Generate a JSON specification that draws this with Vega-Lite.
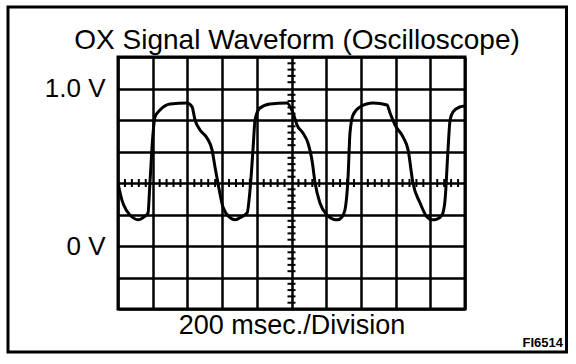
{
  "$schema": "https://vega.github.io/schema/vega-lite/v6.json",
  "autosize": "none",
  "width": 347,
  "height": 252,
  "padding": {"left": 118, "top": 57, "right": 111, "bottom": 55},
  "background": "white",
  "config": {
    "view": {"stroke": "black", "strokeWidth": 3},
    "font": "Liberation Sans"
  },
  "datasets": {
    "wave": [
      {"t": 0, "v": 0.40}, {"t": 23, "v": 0.29}, {"t": 52, "v": 0.22}, {"t": 86, "v": 0.18},
      {"t": 115, "v": 0.166}, {"t": 144, "v": 0.18}, {"t": 173, "v": 0.21}, {"t": 184, "v": 0.40}, {"t": 202, "v": 0.717},
      {"t": 213, "v": 0.819}, {"t": 242, "v": 0.863}, {"t": 300, "v": 0.902}, {"t": 398, "v": 0.908},
      {"t": 427, "v": 0.883}, {"t": 444, "v": 0.80}, {"t": 473, "v": 0.737}, {"t": 513, "v": 0.686},
      {"t": 542, "v": 0.61}, {"t": 559, "v": 0.502}, {"t": 576, "v": 0.40}, {"t": 605, "v": 0.248},
      {"t": 646, "v": 0.18}, {"t": 675, "v": 0.166}, {"t": 703, "v": 0.18}, {"t": 744, "v": 0.21}, {"t": 761, "v": 0.356},
      {"t": 778, "v": 0.61}, {"t": 790, "v": 0.80}, {"t": 818, "v": 0.876}, {"t": 876, "v": 0.902},
      {"t": 974, "v": 0.908}, {"t": 1009, "v": 0.844}, {"t": 1032, "v": 0.768}, {"t": 1066, "v": 0.717},
      {"t": 1095, "v": 0.654}, {"t": 1118, "v": 0.546}, {"t": 1136, "v": 0.40}, {"t": 1164, "v": 0.273},
      {"t": 1205, "v": 0.197}, {"t": 1239, "v": 0.171}, {"t": 1265, "v": 0.166}, {"t": 1291, "v": 0.184}, {"t": 1308, "v": 0.229},
      {"t": 1326, "v": 0.438}, {"t": 1337, "v": 0.717}, {"t": 1355, "v": 0.832}, {"t": 1395, "v": 0.883},
      {"t": 1470, "v": 0.908}, {"t": 1551, "v": 0.895}, {"t": 1568, "v": 0.844}, {"t": 1597, "v": 0.768},
      {"t": 1643, "v": 0.692}, {"t": 1672, "v": 0.61}, {"t": 1700, "v": 0.40}, {"t": 1741, "v": 0.273},
      {"t": 1781, "v": 0.184}, {"t": 1810, "v": 0.166}, {"t": 1839, "v": 0.171}, {"t": 1868, "v": 0.197}, {"t": 1885, "v": 0.292},
      {"t": 1902, "v": 0.61}, {"t": 1914, "v": 0.80}, {"t": 1931, "v": 0.851}, {"t": 1971, "v": 0.883},
      {"t": 2000, "v": 0.889}
    ],
    "hticks": [
      {"t": 40}, {"t": 80}, {"t": 120}, {"t": 160}, {"t": 240}, {"t": 280}, {"t": 320}, {"t": 360},
      {"t": 440}, {"t": 480}, {"t": 520}, {"t": 560}, {"t": 640}, {"t": 680}, {"t": 720}, {"t": 760},
      {"t": 840}, {"t": 880}, {"t": 920}, {"t": 960}, {"t": 1040}, {"t": 1080}, {"t": 1120}, {"t": 1160},
      {"t": 1240}, {"t": 1280}, {"t": 1320}, {"t": 1360}, {"t": 1440}, {"t": 1480}, {"t": 1520}, {"t": 1560},
      {"t": 1640}, {"t": 1680}, {"t": 1720}, {"t": 1760}, {"t": 1840}, {"t": 1880}, {"t": 1920}, {"t": 1960}
    ],
    "vticks": [
      {"v": -0.36}, {"v": -0.32}, {"v": -0.28}, {"v": -0.24}, {"v": -0.16}, {"v": -0.12}, {"v": -0.08}, {"v": -0.04},
      {"v": 0.04}, {"v": 0.08}, {"v": 0.12}, {"v": 0.16}, {"v": 0.24}, {"v": 0.28}, {"v": 0.32}, {"v": 0.36},
      {"v": 0.44}, {"v": 0.48}, {"v": 0.52}, {"v": 0.56}, {"v": 0.64}, {"v": 0.68}, {"v": 0.72}, {"v": 0.76},
      {"v": 0.84}, {"v": 0.88}, {"v": 0.92}, {"v": 0.96}, {"v": 1.04}, {"v": 1.08}, {"v": 1.12}, {"v": 1.16}
    ]
  },
  "layer": [
    {
      "data": {"name": "wave"},
      "mark": {"type": "line", "color": "black", "strokeWidth": 3, "interpolate": "monotone", "clip": true},
      "encoding": {
        "x": {
          "field": "t", "type": "quantitative",
          "scale": {"domain": [0, 2000], "nice": false, "zero": false},
          "axis": {
            "values": [0, 200, 400, 600, 800, 1000, 1200, 1400, 1600, 1800, 2000],
            "tickCount": 50,
            "grid": true, "gridColor": "black", "gridWidth": 2.5, "gridOpacity": 1,
            "domain": false, "ticks": false, "labels": false,
            "title": "200 msec./Division", "titleFont": "Liberation Sans", "titleFontSize": 27,
            "titleFontWeight": "normal", "titleColor": "black", "titlePadding": 3
          }
        },
        "y": {
          "field": "v", "type": "quantitative",
          "scale": {"domain": [-0.4, 1.2], "nice": false, "zero": false},
          "axis": {
            "values": [-0.4, -0.2, 0, 0.2, 0.4, 0.6, 0.8, 1, 1.2],
            "tickCount": 50,
            "grid": true, "gridColor": "black", "gridWidth": 2.5, "gridOpacity": 1,
            "domain": false, "ticks": false, "labelOverlap": false,
            "labelExpr": "datum.value == 1 ? '1.0 V' : (datum.value == 0 ? '0 V' : '')",
            "labelFont": "Liberation Sans", "labelFontSize": 26, "labelColor": "black",
            "labelPadding": 13, "labelBaseline": "middle",
            "title": null
          }
        }
      }
    },
    {
      "data": {"name": "hticks"},
      "mark": {"type": "tick", "orient": "vertical", "color": "black", "size": 8, "thickness": 2, "opacity": 1},
      "encoding": {
        "x": {"field": "t", "type": "quantitative"},
        "y": {"datum": 0.4, "type": "quantitative"}
      }
    },
    {
      "data": {"name": "vticks"},
      "mark": {"type": "tick", "orient": "horizontal", "color": "black", "size": 8, "thickness": 2, "opacity": 1},
      "encoding": {
        "x": {"datum": 1000, "type": "quantitative"},
        "y": {"field": "v", "type": "quantitative"}
      }
    },
    {
      "data": {"values": [{}]},
      "mark": {"type": "rect", "fill": "white", "fillOpacity": 0, "stroke": "black", "strokeWidth": 3, "clip": false},
      "encoding": {
        "x": {"datum": -634, "type": "quantitative"},
        "x2": {"datum": 2585},
        "y": {"datum": 1.517, "type": "quantitative"},
        "y2": {"datum": -0.673}
      }
    },
    {
      "data": {"values": [{"label": "OX Signal Waveform (Oscilloscope)"}]},
      "mark": {"type": "text", "font": "Liberation Sans", "fontSize": 28, "color": "black", "align": "center", "baseline": "alphabetic", "clip": false},
      "encoding": {
        "x": {"datum": 1032, "type": "quantitative"},
        "y": {"datum": 1.251, "type": "quantitative"},
        "text": {"field": "label"}
      }
    },
    {
      "data": {"values": [{"label": "FI6514"}]},
      "mark": {"type": "text", "font": "Liberation Sans", "fontSize": 13, "fontWeight": "bold", "color": "black", "align": "right", "baseline": "alphabetic", "clip": false},
      "encoding": {
        "x": {"datum": 2565, "type": "quantitative"},
        "y": {"datum": -0.641, "type": "quantitative"},
        "text": {"field": "label"}
      }
    }
  ]
}
